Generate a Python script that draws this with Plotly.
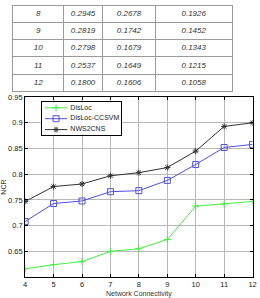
import plotly.graph_objects as go

W, H = 260, 298

# Table data
tbl_k = ["8", "9", "10", "11", "12"]
tbl_c1 = ["0.2945", "0.2819", "0.2798", "0.2537", "0.1800"]
tbl_c2 = ["0.2678", "0.1742", "0.1679", "0.1649", "0.1606"]
tbl_c3 = ["0.1926", "0.1452", "0.1343", "0.1215", "0.1058"]

# Chart data
conn = [4, 5, 6, 7, 8, 9, 10, 11, 12]
disloc = [0.616, 0.624, 0.630, 0.650, 0.655, 0.673, 0.738, 0.742, 0.747]
ccsvm = [0.708, 0.743, 0.748, 0.766, 0.768, 0.788, 0.819, 0.852, 0.858]
nws2cns = [0.747, 0.776, 0.781, 0.797, 0.803, 0.813, 0.845, 0.893, 0.900]

series_names = ["DisLoc", "DisLoc-CCSVM", "NWS2CNS"]

yticks = [0.65, 0.7, 0.75, 0.8, 0.85, 0.9, 0.95]
ytick_text = ["0.65", "0.7", "0.75", "0.8", "0.85", "0.9", "0.95"]

# styles
col_widths = [52, 40, 54, 78.5]
colors = ["#44ee44", "#5050e0", "#333333"]
symbols = ["cross-thin", "square-open", "asterisk-open"]
msizes = [5, 6, 5]
FONT = "Liberation Sans, Arial"

fig = go.Figure()

# ---- table drawn on its own axes ----
bounds = [0]
for w in col_widths:
    bounds.append(bounds[-1] + w)
centers = [(bounds[i] + bounds[i + 1]) / 2 for i in range(len(col_widths))]
cols = [tbl_k, tbl_c1, tbl_c2, tbl_c3]
for ci, col in enumerate(cols):
    fig.add_trace(go.Scatter(
        x=[centers[ci]] * len(col), y=[r + 0.5 for r in range(len(col))],
        text=col, mode="text", textposition="middle center",
        textfont=dict(family=FONT, size=8, color="#333", style="italic"),
        xaxis="x2", yaxis="y2", showlegend=False, hoverinfo="skip"))

# ---- main chart ----
for name, vals, c, s, ms in zip(series_names, [disloc, ccsvm, nws2cns], colors, symbols, msizes):
    fig.add_trace(go.Scatter(
        x=conn, y=vals, name=name, mode="lines+markers",
        line=dict(color=c, width=1),
        marker=dict(symbol=s, size=ms, color=c, line=dict(color=c, width=1)),
        showlegend=False))

# ---- legend drawn on its own axes ----
n = len(series_names)
fig.add_trace(go.Scatter(x=[0, 1, 1, 0, 0], y=[0, 0, n, n, 0], fill="toself",
                         fillcolor="white", mode="none", xaxis="x3", yaxis="y3",
                         showlegend=False, hoverinfo="skip"))
for i, (name, c, s, ms) in enumerate(zip(series_names, colors, symbols, msizes)):
    yy = n - 0.5 - i
    fig.add_trace(go.Scatter(x=[0.04, 0.32], y=[yy, yy], mode="lines",
                             line=dict(color=c, width=1), xaxis="x3", yaxis="y3",
                             showlegend=False, hoverinfo="skip"))
    fig.add_trace(go.Scatter(x=[0.18], y=[yy], mode="markers",
                             marker=dict(symbol=s, size=ms, color=c, line=dict(color=c, width=1)),
                             xaxis="x3", yaxis="y3", showlegend=False, hoverinfo="skip"))
    fig.add_trace(go.Scatter(x=[0.36], y=[yy], mode="text", text=[name],
                             textposition="middle right",
                             textfont=dict(family=FONT, size=7, color="#222"),
                             xaxis="x3", yaxis="y3", showlegend=False, hoverinfo="skip",
                             cliponaxis=False))

axfont = dict(family=FONT, size=7.5, color="#222")
fig.update_layout(
    width=W, height=H, margin=dict(l=0, r=0, t=0, b=0),
    paper_bgcolor="white", plot_bgcolor="white",
    font=dict(family=FONT, size=7, color="#222"),
    showlegend=False,
    xaxis=dict(domain=[23.7 / W, 256.5 / W], range=[4, 12], tickvals=conn,
               showgrid=True, gridcolor="#b8b8b8", gridwidth=1,
               showline=True, linecolor="black", linewidth=1, mirror="ticks",
               ticks="inside", ticklen=3, tickcolor="black", tickfont=axfont,
               zeroline=False, ticklabeloverflow="allow",
               title=dict(text="Network Connectivity", standoff=4,
                          font=dict(size=7, color="#333"))),
    yaxis=dict(domain=[1 - 277.7 / H, 1 - 94.7 / H], range=[0.6, 0.95],
               tickvals=yticks, ticktext=ytick_text,
               showgrid=True, gridcolor="#b8b8b8", gridwidth=1,
               showline=True, linecolor="black", linewidth=1, mirror="ticks",
               ticks="inside", ticklen=3, tickcolor="black", tickfont=axfont,
               zeroline=False,
               title=dict(text="NCR", standoff=2, font=dict(size=7, color="#333"))),
    xaxis2=dict(domain=[11 / W, 235.5 / W], range=[0, bounds[-1]], anchor="y2",
                tickvals=bounds, showticklabels=False, ticks="",
                showgrid=True, gridcolor="#9a9a9a", gridwidth=1,
                showline=True, mirror=True, linecolor="#9a9a9a", linewidth=1,
                zeroline=False, fixedrange=True),
    yaxis2=dict(domain=[1 - 88.7 / H, 1 - 1.6 / H], range=[len(tbl_k), 0], anchor="x2",
                tickvals=list(range(len(tbl_k) + 1)), showticklabels=False, ticks="",
                showgrid=True, gridcolor="#9a9a9a", gridwidth=1,
                showline=True, mirror=True, linecolor="#9a9a9a", linewidth=1,
                zeroline=False, fixedrange=True),
    xaxis3=dict(domain=[40.7 / W, 122 / W], range=[0, 1], anchor="y3",
                showgrid=False, showticklabels=False, ticks="", zeroline=False,
                showline=True, mirror=True, linecolor="black", linewidth=1),
    yaxis3=dict(domain=[1 - 133.3 / H, 1 - 100 / H], range=[0, n], anchor="x3",
                showgrid=False, showticklabels=False, ticks="", zeroline=False,
                showline=True, mirror=True, linecolor="black", linewidth=1),
)

fig.write_html("out.html")
